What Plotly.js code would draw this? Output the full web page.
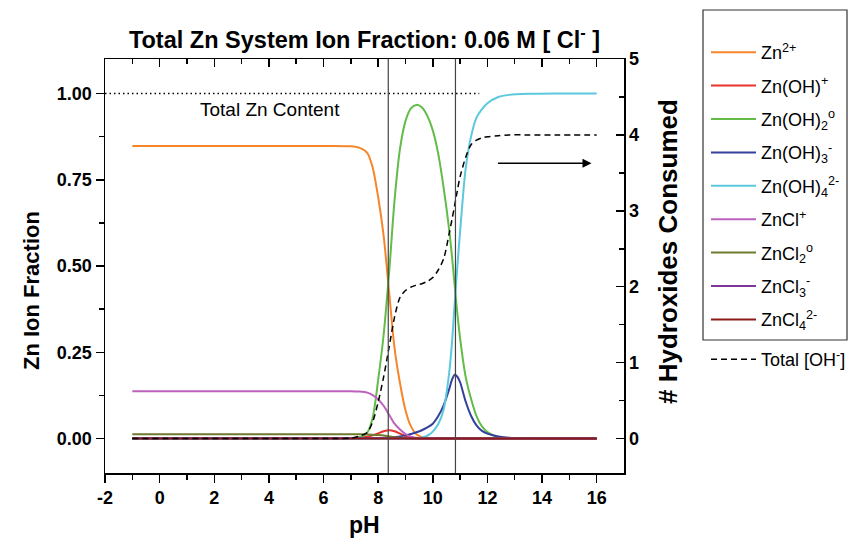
<!DOCTYPE html>
<html><head><meta charset="utf-8">
<script src="https://cdn.plot.ly/plotly-3.0.1.min.js"></script>
<style>html,body{margin:0;padding:0;background:#fff}#chart{width:857px;height:542px}</style>
</head><body><div id="chart"></div>
<script>
// pH sample points
const pH = [-1, 6.0, 7.0, 7.3, 7.6, 7.8, 8.0, 8.2, 8.4, 8.6, 8.8, 9.0, 9.2, 9.4, 9.6, 9.8, 10.0, 10.2, 10.4, 10.6, 10.7, 10.8, 10.9, 11.0, 11.2, 11.4, 11.6, 11.8, 12.0, 12.4, 12.8, 13.5, 14.5, 16];

const zn2 =   [0.848,0.848,0.847,0.843,0.828,0.785,0.700,0.588,0.425,0.262,0.160,0.082,0.035,0.012,0.004,0.001,0,0,0,0,0,0,0,0,0,0,0,0,0,0,0,0,0,0];
const znOH =  [0,0,0.001,0.002,0.005,0.009,0.015,0.021,0.024,0.021,0.014,0.007,0.003,0.001,0,0,0,0,0,0,0,0,0,0,0,0,0,0,0,0,0,0,0,0];
const znOH2 = [0,0,0.001,0.003,0.017,0.060,0.170,0.300,0.480,0.690,0.840,0.920,0.957,0.967,0.960,0.935,0.893,0.825,0.725,0.605,0.530,0.445,0.362,0.290,0.180,0.115,0.065,0.035,0.019,0.003,0.001,0,0,0];
const znOH3 = [0,0,0,0,0,0,0,0.001,0.002,0.004,0.006,0.009,0.013,0.018,0.024,0.032,0.043,0.065,0.097,0.143,0.170,0.185,0.179,0.163,0.108,0.066,0.038,0.022,0.014,0.006,0.002,0.0005,0,0];
const znOH4 = [0,0,0,0,0,0,0,0,0,0,0,0,0,0,0.003,0.008,0.020,0.042,0.085,0.190,0.275,0.390,0.500,0.600,0.780,0.875,0.930,0.955,0.972,0.990,0.996,0.999,1.0,1.0];
const znCl =  [0.137,0.137,0.137,0.136,0.133,0.126,0.113,0.095,0.069,0.043,0.026,0.013,0.005,0.002,0,0,0,0,0,0,0,0,0,0,0,0,0,0,0,0,0,0,0,0];
const znCl2 = [0.012,0.012,0.012,0.012,0.0118,0.011,0.010,0.0085,0.006,0.0037,0.0023,0.001,0.0005,0.0002,0,0,0,0,0,0,0,0,0,0,0,0,0,0,0,0,0,0,0,0];
const znCl3 = [0.0006,0.0006,0.0006,0.0006,0.0006,0.0005,0.0005,0.0004,0.0003,0.0002,0.0001,0,0,0,0,0,0,0,0,0,0,0,0,0,0,0,0,0,0,0,0,0,0,0];
const znCl4 = [0,0,0,0,0,0,0,0,0,0,0,0,0,0,0,0,0,0,0,0,0,0,0,0,0,0,0,0,0,0,0,0,0,0];
const totalOH = [0,0,0.005,0.03,0.08,0.22,0.48,0.81,1.20,1.60,1.86,1.95,1.995,2.02,2.04,2.07,2.12,2.22,2.37,2.70,2.88,3.07,3.27,3.45,3.70,3.87,3.93,3.96,3.975,3.99,4.0,4.0,4.0,4.0];

const seriesNames = ["Zn<sup>2+</sup>","Zn(OH)<sup>+</sup>","Zn(OH)<sub>2</sub><sup>o</sup>","Zn(OH)<sub>3</sub><sup>-</sup>","Zn(OH)<sub>4</sub><sup>2-</sup>","ZnCl<sup>+</sup>","ZnCl<sub>2</sub><sup>o</sup>","ZnCl<sub>3</sub><sup>-</sup>","ZnCl<sub>4</sub><sup>2-</sup>"];
const seriesColors = ["#F7862A","#E8342E","#62BC47","#33409C","#5BC8DE","#BC62BC","#6E7B2C","#7E3699","#8C1A1A"];
const seriesValues = [zn2, znOH, znOH2, znOH3, znOH4, znCl, znCl2, znCl3, znCl4];

const totalZnX = [-2, 11.7];
const totalZnY = [1, 1];
const eqPH = [8.37, 10.83];
const arrowX = [12.33, 15.81];
const arrowY = 0.798;

const xTickVals = [-2,0,2,4,6,8,10,12,14,16];
const xTickText = ["-2","0","2","4","6","8","10","12","14","16"];
const xMinorVals = [-1,1,3,5,7,9,11,13,15];

const FONT = "Liberation Sans, Arial, Helvetica, sans-serif";

const traces = [];
seriesValues.forEach((vals, i) => {
  traces.push({
    x: pH, y: vals, type: "scatter", mode: "lines",
    name: seriesNames[i], legendgroup: "g" + i,
    line: {color: seriesColors[i], width: 2, shape: "spline", smoothing: 0.8},
    hoverinfo: "skip"
  });
});
traces.push({
  x: totalZnX, y: totalZnY, type: "scatter", mode: "lines", showlegend: false,
  line: {color: "#000", width: 1.3, dash: "1.5px,3px"}, hoverinfo: "skip"
});
traces.push({
  x: pH, y: totalOH, type: "scatter", mode: "lines", yaxis: "y2",
  name: "Total [OH<sup>-</sup>]", legend: "legend2",
  line: {color: "#000", width: 1.5, dash: "6px,4px", shape: "spline", smoothing: 0.8},
  hoverinfo: "skip"
});
traces.push({x: [], y: [], xaxis: "x2", yaxis: "y", type: "scatter", mode: "lines", showlegend: false, hoverinfo: "skip"});

const tickFont = {family: FONT, size: 18, color: "#000", weight: "bold"};

const layout = {
  width: 857, height: 542,
  margin: {l: 105, r: 233, t: 59, b: 69, autoexpand: false},
  paper_bgcolor: "#fff", plot_bgcolor: "#fff",
  showlegend: true,
  title: {text: "Total Zn System Ion Fraction: 0.06 M [ Cl<sup>-</sup> ]",
          font: {family: FONT, size: 23.5, color: "#000", weight: "bold"},
          x: 0.5, xref: "paper", xanchor: "center", y: 1 - 40/542, yanchor: "middle"},
  xaxis: {range: [-2, 17], tickmode: "array", tickvals: xTickVals, ticktext: xTickText,
          ticks: "outside", ticklen: 8, tickwidth: 1.5, tickcolor: "#000",
          minor: {tickmode: "array", tickvals: xMinorVals, ticks: "outside", ticklen: 5, tickwidth: 1.5, tickcolor: "#000", showgrid: false},
          showline: true, linewidth: 1.5, linecolor: "#000", showgrid: false, zeroline: false,
          tickfont: tickFont, fixedrange: true},
  xaxis2: {range: [-2, 17], overlaying: "x", side: "top", anchor: "y", tickmode: "array", tickvals: xTickVals,
          ticks: "inside", ticklen: 8, tickwidth: 1.5, tickcolor: "#000", showticklabels: false,
          minor: {tickmode: "array", tickvals: xMinorVals, ticks: "inside", ticklen: 5, tickwidth: 1.5, tickcolor: "#000", showgrid: false},
          showline: true, linewidth: 1.5, linecolor: "#000", showgrid: false, zeroline: false},
  yaxis: {range: [-0.1, 1.1], tick0: 0, dtick: 0.25, tickformat: ".2f",
          ticks: "outside", ticklen: 8, tickwidth: 1.5, tickcolor: "#000",
          minor: {tick0: 0, dtick: 0.125, ticks: "outside", ticklen: 5, tickwidth: 1.5, tickcolor: "#000", showgrid: false},
          showline: true, linewidth: 1.5, linecolor: "#000", showgrid: false, zeroline: false,
          tickfont: tickFont},
  yaxis2: {range: [-0.4545, 5], overlaying: "y", side: "right", anchor: "x", tick0: 0, dtick: 1,
          ticks: "inside", ticklen: 8, tickwidth: 1.5, tickcolor: "#000",
          minor: {tick0: 0, dtick: 0.5, ticks: "inside", ticklen: 5, tickwidth: 1.5, tickcolor: "#000", showgrid: false},
          showline: true, linewidth: 1.5, linecolor: "#000", showgrid: false, zeroline: false,
          tickfont: tickFont},
  legend: {x: (706-105)/519, xanchor: "left", y: (473-34)/414, yanchor: "top", maxheight: 1,
           font: {family: FONT, size: 18, color: "#000"}, bgcolor: "rgba(0,0,0,0)", borderwidth: 0,
           traceorder: "grouped", tracegroupgap: 7, itemwidth: 45},
  legend2: {x: (706-105)/519, xanchor: "left", y: (473-341)/414, yanchor: "top",
           font: {family: FONT, size: 18, color: "#000"}, bgcolor: "rgba(0,0,0,0)", borderwidth: 0, itemwidth: 45},
  shapes: [
    {type: "line", xref: "x", yref: "paper", x0: eqPH[0], x1: eqPH[0], y0: 0, y1: 1, line: {color: "#444", width: 1.2}},
    {type: "line", xref: "x", yref: "paper", x0: eqPH[1], x1: eqPH[1], y0: 0, y1: 1, line: {color: "#444", width: 1.2}},
    {type: "rect", xref: "paper", yref: "paper", x0: (703-105)/519, x1: (847-105)/519, y0: (473-340)/414, y1: (473-10)/414,
     line: {color: "#333", width: 1.2}, fillcolor: "rgba(0,0,0,0)"}
  ],
  annotations: [
    {text: "Total Zn Content", x: 4.04, y: 0.955, xref: "x", yref: "y", showarrow: false,
     font: {family: FONT, size: 19, color: "#000"}},
    {text: "", x: arrowX[1], y: arrowY, ax: arrowX[0], ay: arrowY, xref: "x", yref: "y", axref: "x", ayref: "y",
     showarrow: true, arrowhead: 2, arrowsize: 1.2, arrowwidth: 1.5, arrowcolor: "#000"},
    {text: "Zn Ion Fraction", textangle: -90, x: (31-105)/519, y: (473-291)/414, xref: "paper", yref: "paper",
     showarrow: false, xanchor: "center", yanchor: "middle", font: {family: FONT, size: 22, color: "#000", weight: "bold"}},
    {text: "# Hydroxides Consumed", textangle: -90, x: (668-105)/519, y: (473-252)/414, xref: "paper", yref: "paper",
     showarrow: false, xanchor: "center", yanchor: "middle", font: {family: FONT, size: 26, color: "#000", weight: "bold"}},
    {text: "pH", x: 0.5, y: (473-525)/414, xref: "paper", yref: "paper",
     showarrow: false, xanchor: "center", yanchor: "middle", font: {family: FONT, size: 23, color: "#000", weight: "bold"}}
  ]
};

Plotly.newPlot("chart", traces, layout, {displayModeBar: false, staticPlot: true});
</script>
</body></html>
